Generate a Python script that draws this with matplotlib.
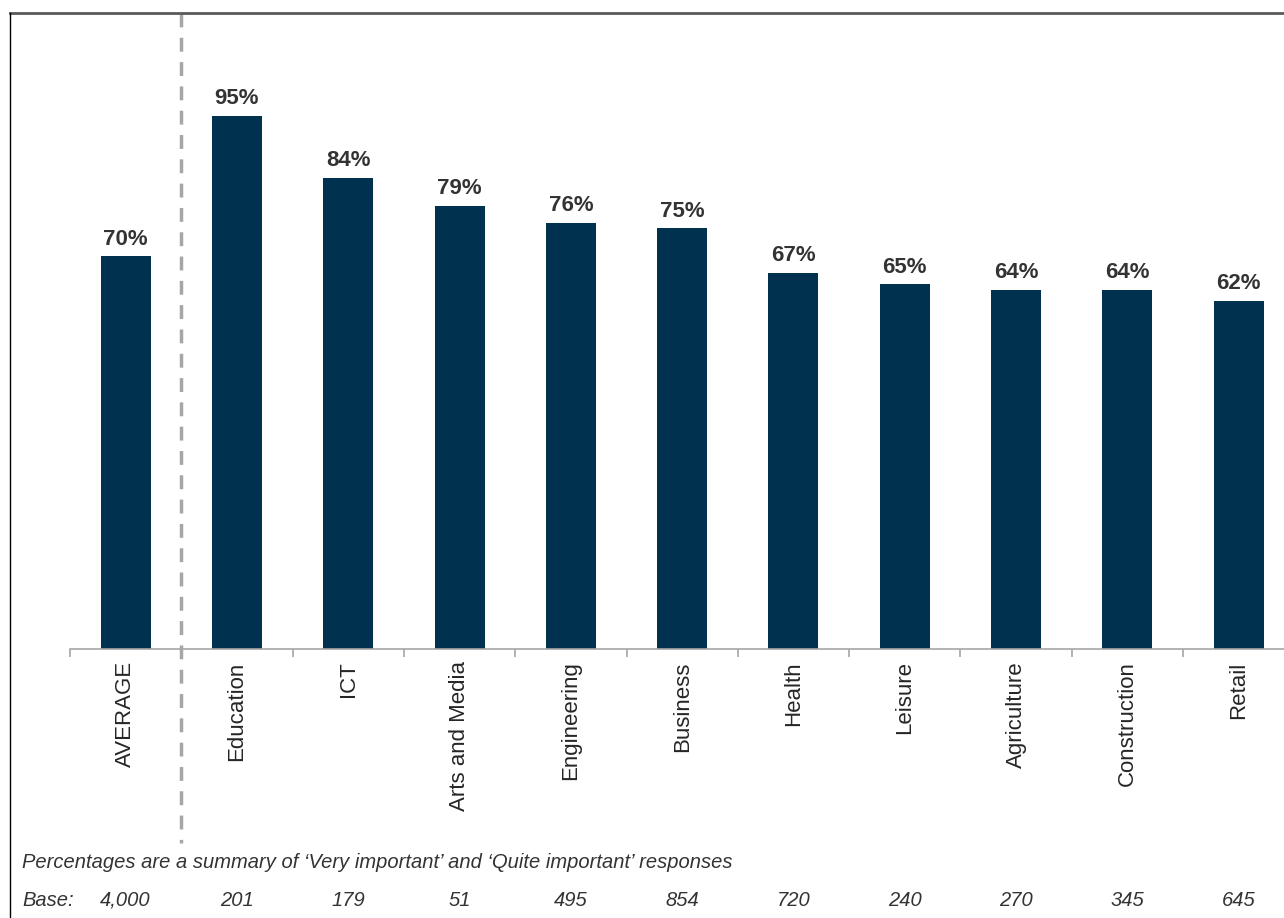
import numpy as np
import matplotlib.pyplot as plt
import matplotlib.transforms as mtransforms
from matplotlib.lines import Line2D

categories = ["AVERAGE", "Education", "ICT", "Arts and Media", "Engineering",
              "Business", "Health", "Leisure", "Agriculture", "Construction", "Retail"]
values = [70, 95, 84, 79, 76, 75, 67, 65, 64, 64, 62]
bases = ["4,000", "201", "179", "51", "495", "854", "720", "240", "270", "345", "645"]
note = "Percentages are a summary of \u2018Very important\u2019 and \u2018Quite important\u2019 responses"

plt.rcParams['font.family'] = ['Liberation Sans', 'DejaVu Sans']

W, H = 1284, 918
fig = plt.figure(figsize=(W / 100, H / 100), dpi=100)

# axes in pixel coords: baseline y=649, 100% at y=88, x from 70, slot width ~111.3
x0, slot = 70, 111.3
n = len(categories)
left = x0 / W
width = slot * n / W
bottom = (H - 649) / H
height = (649 - 88) / H
ax = fig.add_axes([left, bottom, width, height])

x = np.arange(n)
bar_color = "#00324f"
ax.bar(x, values, width=0.45, color=bar_color, zorder=2)
ax.set_xlim(-0.5, n - 0.5)
ax.set_ylim(0, 100)

for xi, v in zip(x, values):
    ax.text(xi, v + 1.2, f"{v}%", ha="center", va="bottom", fontsize=16,
            fontweight="bold", color="#333333")

for s in ["top", "right", "left"]:
    ax.spines[s].set_visible(False)
ax.spines["bottom"].set_color("#a6a6a6")
ax.spines["bottom"].set_linewidth(1.2)
ax.set_yticks([])
ax.set_xticks(np.arange(-0.5, n, 1.0), minor=False)
ax.set_xticklabels([])
ax.tick_params(axis="x", length=6, color="#a6a6a6", width=1.2)

for xi, c in zip(x, categories):
    ax.text(xi, -2.2, c, rotation=90, ha="center", va="top", fontsize=16,
            color="#262626", clip_on=False)

# dashed separator between average and sectors
xsep = x0 + slot
fig.add_artist(Line2D([xsep / W, xsep / W], [1 - 13 / H, 1 - 843 / H],
                      color="#a6a6a6", lw=2.5, linestyle=(0, (4, 3))))

# frame lines (top and left)
fig.add_artist(Line2D([10 / W, 1.0], [1 - 13 / H, 1 - 13 / H], color="#595959", lw=2))
fig.add_artist(Line2D([10 / W, 10 / W], [1 - 13 / H, 0], color="#000000", lw=1))

# footnotes
fs = 14.5
fig.text(22 / W, 1 - 862 / H, note, fontsize=fs, style="italic", color="#333333", va="center")
fig.text(22 / W, 1 - 900 / H, "Base:", fontsize=fs, style="italic", color="#333333", va="center")
trans = mtransforms.blended_transform_factory(ax.transData, fig.transFigure)
for xi, b in zip(x, bases):
    ax.text(xi, 1 - 900 / H, b, transform=trans, ha="center", va="center",
            fontsize=fs, style="italic", color="#333333", clip_on=False)

fig.savefig("out.png", dpi=100, facecolor="white")
